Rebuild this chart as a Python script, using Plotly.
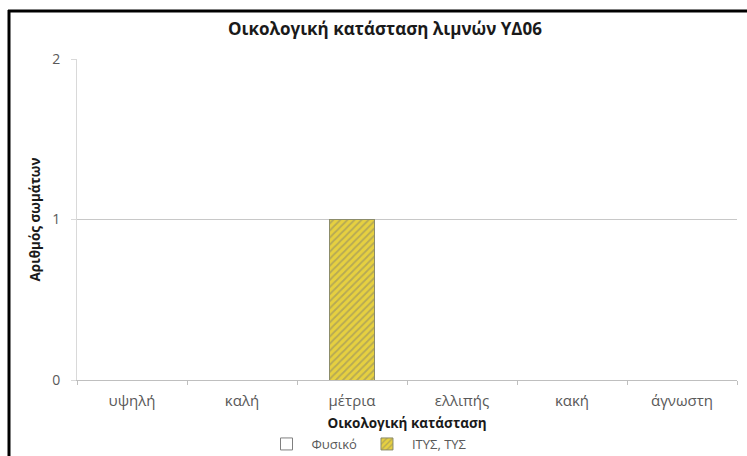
import plotly.graph_objects as go

categories = ["υψηλή", "καλή", "μέτρια", "ελλιπής", "κακή", "άγνωστη"]
fysiko = [0, 0, 0, 0, 0, 0]
itys_tys = [0, 0, 1, 0, 0, 0]
y_ticks = [0, 1, 2]

FONT = "Open Sans"

fig = go.Figure()
fig.add_trace(go.Bar(
    x=categories, y=fysiko, name="Φυσικό",
    marker=dict(color="white", line=dict(color="#7f7f7f", width=1)),
    width=0.41,
))
fig.add_trace(go.Bar(
    x=categories, y=itys_tys, name="ΙΤΥΣ, ΤΥΣ",
    marker=dict(color="#e6d040", line=dict(color="#8c8c6a", width=1),
                pattern=dict(shape="/", fgcolor="#86826a", bgcolor="#e6d040",
                             size=5, solidity=0.35)),
    width=0.41,
))

L, R, T, B = 77, 10, 59, 76
W, H = 747, 456
pw, ph = W - L - R, H - T - B

def px(xp):
    return (xp - L) / pw

def py(yp):
    return (H - B - yp) / ph

fig.update_layout(
    width=W, height=H,
    margin=dict(l=L, r=R, t=T, b=B, autoexpand=False),
    paper_bgcolor="white", plot_bgcolor="white",
    barmode="stack",
    font=dict(family=FONT, size=14, color="#595959"),
    title=dict(text="<b>Οικολογική κατάσταση λιμνών ΥΔ06</b>",
               font=dict(family=FONT, size=17, color="#1a1a1a"),
               x=px(385), xanchor="center", xref="paper", y=1 - 29 / H, yanchor="middle"),
    xaxis=dict(
        type="category", showgrid=False, automargin=False,
        showline=True, linecolor="#bfbfbf", linewidth=1,
        ticks="outside", ticklen=4, tickcolor="#bfbfbf", tickson="boundaries",
        ticklabelstandoff=7,
        tickfont=dict(family=FONT, size=15, color="#595959"),
        title=dict(text="<b>Οικολογική κατάσταση</b>",
                   font=dict(family=FONT, size=13.5, color="#1a1a1a"), standoff=9),
    ),
    yaxis=dict(
        range=[0, 2], tickvals=y_ticks, showgrid=True, gridcolor="#c8c8c8",
        automargin=False,
        showline=True, linecolor="#d9d9d9", linewidth=1,
        ticks="outside", ticklen=5, tickcolor="#d9d9d9",
        ticklabelstandoff=8,
        tickfont=dict(family=FONT, size=14, color="#595959"),
        zeroline=False,
        title=dict(text="<b>Αριθμός σωμάτων</b>",
                   font=dict(family=FONT, size=13.5, color="#1a1a1a"), standoff=8),
    ),
    legend=dict(orientation="h", x=px(367), xanchor="center", y=py(444), yanchor="middle",
                font=dict(family=FONT, size=13, color="#595959"),
                traceorder="normal", itemwidth=40),
    bargap=0.59,
    shapes=[
        dict(type="line", xref="paper", yref="paper", x0=px(8), x1=px(747), y0=py(11), y1=py(11),
             line=dict(color="black", width=3)),
        dict(type="line", xref="paper", yref="paper", x0=px(9), x1=px(9), y0=py(10), y1=py(456),
             line=dict(color="black", width=3)),
    ],
)

fig.write_html("out.html")
